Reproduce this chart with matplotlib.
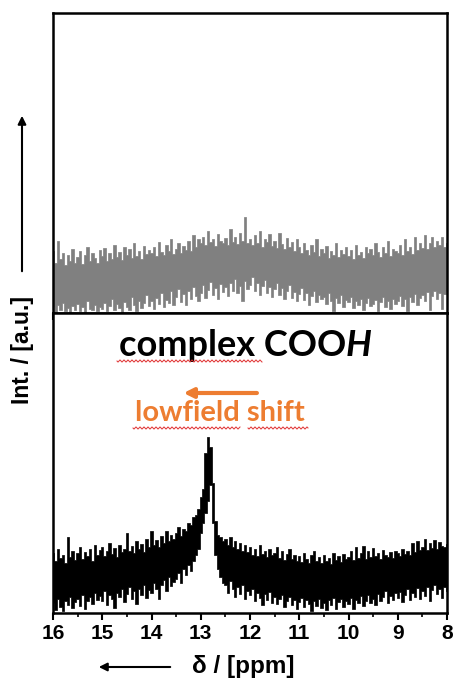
import numpy as np
import matplotlib
matplotlib.use("Agg")
import matplotlib.pyplot as plt
from matplotlib.lines import Line2D
from matplotlib.patches import FancyArrowPatch

# ---------------- data (arbitrary intensity units) ----------------
# chemical-shift grid, 16.0 -> 8.0 ppm in 0.05 ppm steps
ppm = np.round(np.linspace(16.0, 8.0, 161), 2)

top_upper = [62, 50, 72, 54, 60, 48, 58, 52, 64, 50,
             56, 62, 49, 58, 66, 52, 60, 55, 50, 63,
             57, 65, 52, 60, 54, 68, 56, 61, 53, 66,
             58, 64, 55, 70, 57, 62, 54, 67, 59, 63,
             60, 66, 57, 71, 61, 58, 68, 62, 74, 59,
             64, 70, 60, 67, 63, 72, 62, 78, 66, 74,
             70, 76, 68, 82, 71, 74, 67, 79, 72, 70,
             75, 68, 84, 71, 76, 69, 80, 72, 96, 70,
             74, 68, 78, 70, 82, 66, 74, 71, 79, 67,
             72, 65, 80, 69, 64, 75, 66, 71, 62, 74,
             66, 60, 70, 63, 58, 68, 61, 74, 57, 64,
             60, 67, 55, 62, 58, 70, 56, 63, 59, 66,
             57, 63, 54, 68, 58, 61, 55, 66, 60, 64,
             58, 70, 61, 56, 66, 60, 72, 57, 64, 62,
             60, 68, 58, 74, 62, 66, 59, 76, 63, 70,
             65, 78, 64, 70, 76, 66, 72, 68, 76, 66,
             70]
top_lower = [6, 1, 8, 3, 10, 2, 5, 1, 7, 3,
             9, 2, 6, 1, 12, 4, 3, 8, 2, 6,
             4, 10, 2, 7, 14, 3, 9, 5, 1, 11,
             6, 3, 16, 8, 2, 12, 5, 10, 18, 7,
             12, 4, 15, 9, 20, 6, 13, 10, 22, 8,
             16, 24, 11, 19, 8, 22, 14, 26, 17, 12,
             20, 28, 15, 23, 31, 18, 25, 14, 29, 21,
             26, 17, 30, 22, 34, 20, 27, 12, 32, 24,
             28, 36, 22, 30, 18, 27, 33, 20, 26, 16,
             24, 30, 18, 25, 14, 22, 28, 15, 21, 12,
             19, 25, 13, 20, 8, 17, 22, 11, 18, 14,
             16, 9, 20, 12, 2, 15, 10, 18, 6, 13,
             11, 16, 5, 12, 8, 14, 3, 10, 15, 7,
             9, 13, 2, 11, 16, 6, 12, 4, 14, 9,
             12, 17, 7, 14, 2, 16, 11, 19, 8, 15,
             18, 12, 21, 3, 17, 22, 14, 20, 4, 19,
             22]

bot_upper = [60, 52, 64, 55, 58, 50, 76, 56, 62, 53,
             60, 66, 54, 61, 57, 64, 52, 68, 58, 63,
             66, 57, 62, 70, 59, 65, 56, 68, 61, 64,
             80, 62, 67, 60, 72, 64, 69, 61, 74, 66,
             82, 68, 73, 66, 77, 70, 82, 72, 78, 74,
             80, 86, 77, 84, 82, 90, 88, 96, 98, 104,
             116, 124, 160, 176, 166, 130, 92, 78, 76, 72,
             74, 68, 76, 66, 72, 64, 70, 62, 68, 61,
             66, 58, 64, 57, 68, 59, 62, 56, 64, 58,
             60, 66, 55, 62, 53, 59, 64, 54, 58, 52,
             57, 51, 60, 54, 50, 58, 62, 52, 56, 50,
             58, 52, 55, 49, 60, 53, 57, 51, 59, 54,
             56, 62, 53, 66, 55, 60, 67, 54, 62, 56,
             65, 57, 60, 54, 63, 58, 56, 61, 55, 62,
             60, 57, 64, 59, 62, 58, 70, 61, 72, 63,
             66, 74, 63, 70, 65, 73, 64, 71, 67, 66,
             69]
bot_lower = [10, 3, 14, 6, 2, 12, 8, 16, 5, 11,
             14, 7, 18, 4, 12, 16, 9, 20, 13, 17,
             12, 22, 8, 18, 14, 5, 20, 16, 24, 11,
             19, 26, 14, 22, 9, 24, 18, 28, 15, 23,
             20, 30, 24, 14, 28, 33, 22, 36, 27, 31,
             34, 40, 30, 44, 38, 48, 42, 52, 58, 64,
             80, 90, 100, 112, 128, 90, 58, 44, 36, 30,
             28, 20, 32, 24, 16, 26, 19, 28, 14, 22,
             18, 24, 12, 20, 15, 8, 19, 13, 21, 10,
             16, 9, 14, 18, 6, 12, 16, 8, 13, 4,
             11, 15, 6, 13, 9, 2, 12, 7, 14, 5,
             10, 3, 13, 8, 15, 4, 11, 14, 6, 12,
             9, 15, 4, 13, 10, 17, 7, 12, 18, 10,
             14, 8, 19, 12, 16, 22, 10, 17, 13, 20,
             15, 21, 11, 18, 24, 13, 20, 16, 25, 14,
             22, 17, 26, 12, 23, 28, 19, 24, 15, 26,
             22]

xticks_major = [16, 15, 14, 13, 12, 11, 10, 9, 8]
xtick_labels = ["16", "15", "14", "13", "12", "11", "10", "9", "8"]

# ---------------- figure ----------------
W, H = 454, 680
fig = plt.figure(figsize=(W / 100, H / 100), dpi=100)

def fx(px):
    return np.asarray(px) / W

def fy(py):
    return 1 - np.asarray(py) / H

left, right = 53, 447
ax_top = fig.add_axes([fx(left), fy(313), fx(right - left), 300 / H])
ax_bot = fig.add_axes([fx(left), fy(613), fx(right - left), 300 / H])

ax_top.fill_between(ppm, top_lower, top_upper, step="mid",
                    facecolor="#808080", edgecolor="#808080", linewidth=0.5)
ax_bot.fill_between(ppm, bot_lower, bot_upper, step="mid",
                    facecolor="black", edgecolor="black", linewidth=0.5)

for ax in (ax_top, ax_bot):
    ax.set_xlim(16, 8)
    ax.set_ylim(0, 300)
    ax.set_yticks([])
    for s in ax.spines.values():
        s.set_linewidth(1.8)
    ax.set_xticks(xticks_major)
    ax.set_xticks(np.arange(8.5, 16, 1.0), minor=True)
    ax.tick_params(axis="x", which="major", direction="out", length=5, width=1.5)
    ax.tick_params(axis="x", which="minor", direction="out", length=3, width=1.2)

ax_top.set_xticklabels([])
ax_bot.set_xticklabels(xtick_labels, fontfamily="Liberation Sans",
                       fontweight="bold", fontsize=15)
ax_bot.tick_params(axis="x", pad=3)

# ---------------- annotations ----------------
xc, yc = 12.1, 268
t1 = ax_bot.text(xc, yc, "complex COO", fontfamily="Lato", fontweight="bold",
                 fontsize=26, ha="left", va="center", color="black")
tH = ax_bot.text(xc, yc, "H", fontfamily="Lato", fontweight="bold", style="italic",
                 fontsize=26, ha="left", va="center", color="black")
fig.canvas.draw()
bb = t1.get_window_extent()
bbH = tH.get_window_extent()
total = (bb.x1 - bb.x0) + (bbH.x1 - bbH.x0)
cx, cy = ax_bot.transData.transform((xc, yc))
inv = ax_bot.transData.inverted()
t1.set_position(tuple(inv.transform((cx - total / 2, cy))))
tH.set_position(tuple(inv.transform((cx - total / 2 + (bb.x1 - bb.x0), cy))))

orange = "#ED7D31"
ax_bot.text(12.61, 200, "lowfield shift", fontfamily="Lato", fontweight="bold",
            fontsize=21, ha="center", va="center", color=orange)
ax_bot.annotate("", xy=(13.35, 220), xytext=(11.86, 220),
                arrowprops=dict(arrowstyle="-|>", color=orange, lw=3,
                                mutation_scale=14, shrinkA=0, shrinkB=0))

# red spell-check squiggles (decoration)
def squiggle(x0, x1, y):
    xs = np.linspace(x0, x1, int((x1 - x0) * 2))
    ys = y + 1.0 * np.sin((xs - x0) * np.pi / 2)
    fig.add_artist(Line2D(fx(xs), fy(ys), color="#E03030", lw=0.7))

squiggle(117, 262, 361)
squiggle(133, 240, 428)
squiggle(248, 308, 428)

# y-axis label with arrow
fig.text(fx(22), fy(350), "Int. / [a.u.]", rotation=90, ha="center", va="center",
         fontfamily="Liberation Sans", fontweight="bold", fontsize=16.5)
fig.add_artist(FancyArrowPatch(
    (fx(22), fy(274)), (fx(22), fy(113)), transform=fig.transFigure,
    arrowstyle="-|>", mutation_scale=12, lw=1.5, color="black"))

# x-axis label with arrow
fig.text(fx(243), fy(666), "δ / [ppm]", ha="center", va="center",
         fontfamily="Liberation Sans", fontweight="bold", fontsize=17.5)
fig.add_artist(FancyArrowPatch(
    (fx(173), fy(667)), (fx(96), fy(667)), transform=fig.transFigure,
    arrowstyle="-|>", mutation_scale=12, lw=1.5, color="black"))

fig.savefig("out.png", dpi=100)
